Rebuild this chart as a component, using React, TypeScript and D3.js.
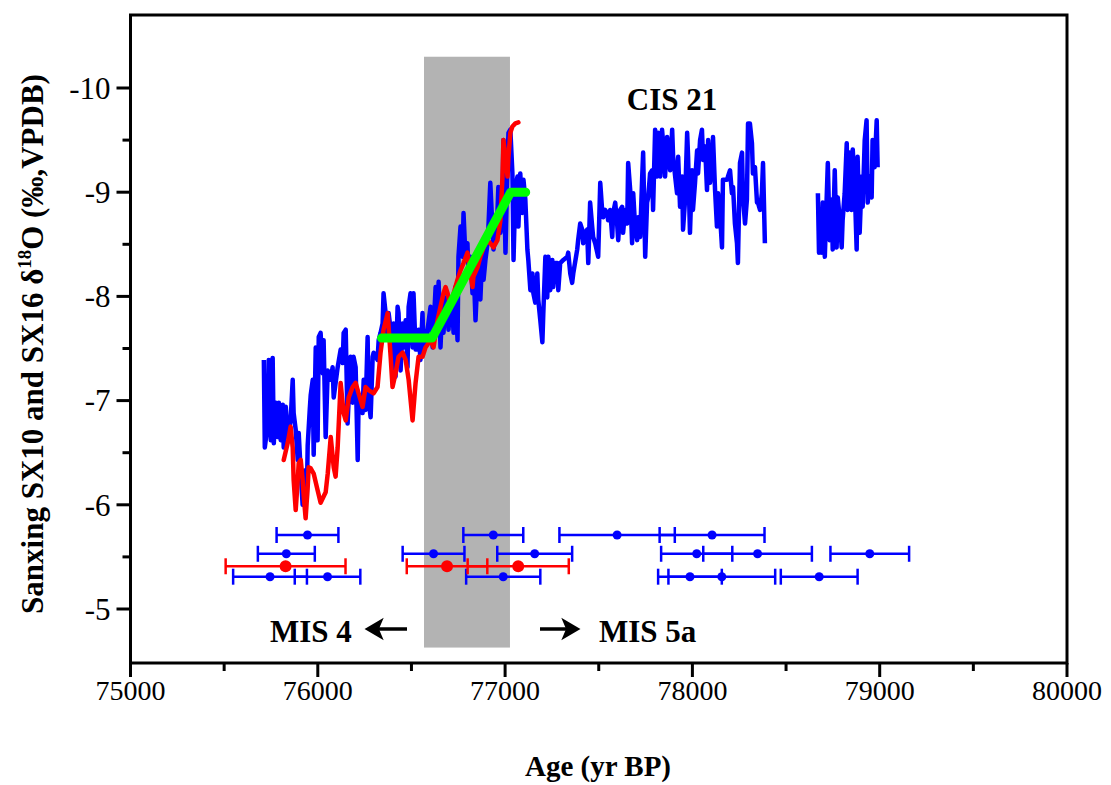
import React from "react";
import * as d3 from "d3";

// ---------- data ----------
const xTicksMajor = [75000, 76000, 77000, 78000, 79000, 80000];
const xTicksMinor = [75500, 76500, 77500, 78500, 79500];
const yTicksMajor = [-10, -9, -8, -7, -6, -5];
const yTicksMinor = [-9.5, -8.5, -7.5, -6.5, -5.5];

// SX10 (blue) – first continuous part
const blueA: [number, number][] = [
  [75712, -7.39], [75717, -6.55], [75733, -6.78], [75738, -7.39], [75749, -6.62], [75759, -7.41],
  [75765, -6.59], [75776, -6.98], [75786, -6.65], [75792, -6.98], [75802, -6.62], [75813, -6.96],
  [75818, -6.55], [75829, -6.94], [75840, -6.65], [75855, -6.81], [75866, -7.2], [75871, -6.88],
  [75882, -6.72], [75893, -6.43], [75898, -6.69], [75909, -6.31], [75919, -6.0], [75930, -6.33],
  [75941, -6.05], [75946, -6.57], [75957, -6.91], [75962, -7.05], [75973, -7.2], [75978, -6.48],
  [75989, -7.51], [75999, -6.62], [76005, -7.61], [76015, -7.65], [76026, -7.26], [76031, -7.58],
  [76042, -6.65], [76053, -7.29], [76069, -7.2], [76079, -7.32], [76085, -7.03], [76106, -7.32],
  [76122, -7.49], [76133, -7.36], [76138, -7.65], [76149, -7.68], [76159, -6.78], [76175, -7.42],
  [76186, -6.98], [76191, -7.42], [76202, -7.32], [76213, -6.43], [76218, -7.01], [76229, -7.01],
  [76239, -6.88], [76245, -7.2], [76255, -6.91], [76266, -7.61], [76271, -7.01], [76282, -6.84],
  [76293, -7.42], [76298, -7.46], [76319, -7.39], [76325, -7.58], [76335, -7.65], [76346, -7.74],
  [76351, -8.03], [76362, -7.84], [76373, -7.61], [76378, -7.84], [76389, -7.68], [76399, -7.42],
  [76405, -7.74], [76415, -7.23], [76426, -7.9], [76431, -7.84], [76442, -7.29], [76453, -7.74],
  [76458, -7.51], [76469, -7.77], [76479, -7.32], [76485, -7.9], [76495, -8.03], [76506, -7.51],
  [76511, -8.03], [76522, -7.49], [76533, -7.49], [76538, -7.68], [76548, -7.39], [76559, -7.84],
  [76565, -7.49], [76586, -7.68], [76602, -7.9], [76613, -7.51], [76629, -8.09], [76639, -7.71],
  [76645, -8.14], [76655, -7.51], [76666, -7.97], [76671, -7.65], [76682, -7.99], [76693, -7.8],
  [76698, -7.68], [76708, -7.99], [76719, -7.84], [76725, -7.65], [76735, -8.09], [76746, -7.58],
  [76751, -8.38], [76762, -8.67], [76773, -8.38], [76778, -8.8], [76789, -8.35], [76799, -8.51],
  [76805, -8.19], [76815, -8.38], [76826, -8.03], [76831, -8.32], [76842, -7.77], [76853, -8.22],
  [76858, -8.35], [76868, -7.97], [76879, -8.45], [76885, -8.16], [76895, -8.35], [76906, -8.51],
  [76911, -8.67], [76921, -9.09], [76932, -8.67], [76938, -8.45], [76948, -8.61], [76959, -8.8],
  [76964, -9.05], [76975, -8.61], [76986, -8.83], [76991, -9.5], [77002, -8.42], [77013, -9.31],
  [77018, -9.57], [77028, -9.6], [77039, -9.18], [77045, -8.35], [77055, -9.05], [77066, -9.15],
  [77071, -8.67], [77081, -9.18], [77092, -8.8], [77098, -9.12], [77108, -8.93], [77119, -8.45],
  [77124, -8.35], [77135, -8.06], [77146, -8.22], [77151, -8.03], [77161, -7.94], [77172, -8.22],
  [77177, -7.97], [77188, -7.77], [77199, -7.56], [77204, -7.84], [77215, -8.38], [77225, -7.99],
  [77231, -8.38], [77241, -8.06], [77252, -8.35], [77257, -8.09], [77268, -8.32], [77279, -8.32],
  [77284, -8.06], [77294, -8.32], [77311, -8.35], [77332, -8.38], [77337, -8.42], [77348, -8.22],
  [77358, -8.13], [77364, -8.22], [77385, -8.45], [77390, -8.54], [77401, -8.7], [77412, -8.64],
  [77417, -8.51], [77428, -8.61], [77438, -8.64], [77444, -8.32], [77454, -8.9], [77465, -8.67],
  [77470, -8.57], [77481, -8.51], [77492, -8.42], [77497, -8.38], [77508, -9.09], [77518, -8.83],
  [77524, -8.76], [77534, -8.83], [77545, -8.8], [77550, -8.73], [77561, -8.83], [77572, -8.57],
  [77577, -8.8], [77588, -8.9], [77598, -8.7], [77604, -8.54], [77614, -8.83], [77625, -8.86],
  [77630, -8.61], [77641, -8.83], [77652, -8.7], [77657, -9.28], [77668, -9.02], [77678, -8.51],
  [77684, -8.99], [77694, -8.67], [77705, -8.54], [77710, -8.76], [77721, -8.57], [77732, -9.15],
  [77737, -9.38], [77748, -8.38], [77758, -8.9], [77764, -8.95], [77774, -9.18], [77785, -9.21],
  [77790, -8.83], [77801, -9.6], [77812, -9.15], [77817, -9.57], [77828, -9.15], [77838, -9.6],
  [77844, -9.47], [77854, -9.15], [77865, -9.53], [77870, -9.41], [77881, -9.21], [77892, -9.6],
  [77897, -9.34], [77908, -9.15], [77918, -8.99], [77924, -9.34], [77934, -8.86], [77945, -9.15],
  [77950, -8.64], [77961, -8.93], [77972, -9.57], [77977, -9.34], [77987, -8.61], [77998, -9.21],
  [78003, -8.83], [78014, -9.09], [78025, -9.4], [78030, -9.18], [78041, -9.5], [78051, -9.6],
  [78057, -9.31], [78068, -9.44], [78078, -9.02], [78084, -9.5], [78094, -9.09], [78105, -9.28],
  [78110, -9.53], [78121, -9.02], [78131, -8.67], [78137, -8.99], [78147, -8.8], [78158, -8.47],
  [78163, -9.12], [78174, -9.12], [78185, -9.12], [78190, -9.15], [78201, -9.21], [78211, -8.99],
  [78217, -9.05], [78227, -8.7], [78238, -8.51], [78243, -8.32], [78254, -9.28], [78265, -9.38],
  [78270, -8.95], [78281, -8.7], [78291, -8.93], [78297, -9.66], [78307, -9.66], [78318, -9.47],
  [78323, -9.18], [78334, -9.24], [78345, -8.9], [78350, -8.9], [78361, -8.83], [78371, -8.99],
  [78377, -9.28], [78387, -8.51],
];

// SX10 (blue) – second part after the hiatus
const blueB: [number, number][] = [
  [78670, -8.99], [78676, -8.42], [78680, -8.83], [78691, -8.42], [78696, -8.9], [78707, -8.38],
  [78717, -8.95], [78723, -9.28], [78733, -8.54], [78744, -8.93], [78749, -8.45], [78760, -9.21],
  [78770, -8.47], [78776, -8.95], [78786, -8.76], [78797, -8.47], [78802, -8.73], [78813, -8.99],
  [78824, -9.47], [78829, -8.83], [78840, -9.38], [78850, -8.83], [78856, -9.41], [78866, -9.09],
  [78877, -8.45], [78882, -9.34], [78893, -8.61], [78904, -9.15], [78909, -8.86], [78920, -9.5],
  [78930, -9.69], [78936, -8.9], [78946, -9.15], [78957, -8.95], [78962, -9.5], [78973, -9.24],
  [78984, -9.69], [78989, -9.24],
];

// SX16 (red)
const red: [number, number][] = [
  [75818, -6.43], [75839, -6.59], [75855, -6.75], [75866, -6.55], [75871, -6.24], [75882, -5.95],
  [75893, -6.24], [75898, -6.4], [75909, -6.43], [75919, -6.24], [75925, -6.08], [75935, -5.87],
  [75946, -6.17], [75951, -6.36], [75962, -6.35], [75978, -6.3], [75999, -6.14], [76015, -6.02],
  [76031, -6.08], [76042, -6.12], [76053, -6.3], [76069, -6.65], [76085, -6.36], [76095, -6.27],
  [76106, -6.55], [76122, -7.17], [76138, -6.88], [76149, -6.81], [76165, -7.03], [76186, -7.13],
  [76202, -7.17], [76218, -7.07], [76239, -6.94], [76255, -7.13], [76271, -7.1], [76298, -7.07],
  [76319, -7.13], [76335, -7.46], [76351, -7.68], [76373, -7.84], [76389, -7.42], [76399, -7.13],
  [76415, -7.26], [76431, -7.42], [76453, -7.46], [76469, -7.39], [76485, -7.2], [76506, -6.81],
  [76522, -7.17], [76538, -7.42], [76559, -7.42], [76575, -7.51], [76602, -7.58], [76618, -7.51],
  [76639, -7.77], [76655, -7.9], [76671, -8.03], [76682, -8.09], [76693, -8.03], [76708, -7.9],
  [76725, -8.03], [76746, -8.16], [76762, -8.25], [76778, -8.32], [76799, -8.42], [76815, -8.22],
  [76826, -8.09], [76831, -8.19], [76853, -8.28], [76868, -8.38], [76885, -8.47], [76906, -8.54],
  [76921, -8.51], [76938, -8.47], [76959, -8.54], [76975, -8.73], [76986, -9.15], [76991, -9.5],
  [77002, -9.34], [77013, -9.15], [77018, -9.34], [77028, -9.57], [77039, -9.63], [77055, -9.66],
  [77071, -9.67],
];

// transition ramp (green)
const ramp: [number, number][] = [[76340, -7.6], [76610, -7.6], [77030, -9.0], [77110, -9.0]];

// shaded transition interval
const bandAges = [76567, 77026];
const bandValues = [-10.3, -4.63];

// U-Th dates: [age, 2σ error, plotted level]
const blueDates: [number, number, number][] = [
  [75945, 165, -5.71], [76937, 160, -5.71], [77598, 308, -5.71], [78105, 280, -5.71],
  [75832, 152, -5.53], [76618, 165, -5.53], [77158, 200, -5.53], [78023, 190, -5.53],
  [78348, 290, -5.53], [78947, 210, -5.53],
  [75745, 197, -5.31], [76052, 175, -5.31], [76990, 198, -5.31], [77987, 170, -5.31],
  [78157, 285, -5.31], [78677, 205, -5.31],
];
const redDates: [number, number, number][] = [
  [75828, 320, -5.41], [76690, 215, -5.41], [77070, 270, -5.41],
];

// ---------- layout ----------
const W = 1111;
const H = 785;
const L = 130.5;
const R = 1067;
const T = 15;
const B = 663;
const FONT = '"Liberation Serif", "Times New Roman", serif';

export default function App() {
  const x = d3.scaleLinear().domain([75000, 80000]).range([L, R]);
  const y = d3.scaleLinear().domain([-10, -5]).range([88, 609]);
  const line = d3
    .line<[number, number]>()
    .x((d) => x(d[0]))
    .y((d) => y(d[1]));

  const errBar = (d: [number, number, number], color: string, r: number, i: number) => {
    const x0 = x(d[0] - d[1]);
    const x1 = x(d[0] + d[1]);
    const cy = y(d[2]);
    return (
      <g key={color + i} stroke={color} strokeWidth={2.5}>
        <line x1={x0} x2={x1} y1={cy} y2={cy} />
        <line x1={x0} x2={x0} y1={cy - 8} y2={cy + 8} />
        <line x1={x1} x2={x1} y1={cy - 8} y2={cy + 8} />
        <circle cx={x(d[0])} cy={cy} r={r} fill={color} stroke="none" />
      </g>
    );
  };

  return (
    <svg
      width={W}
      height={H}
      viewBox={`0 0 ${W} ${H}`}
      style={{ position: "absolute", left: 0, top: 0, background: "#fff" }}
      fontFamily={FONT}
    >
      <rect x={0} y={0} width={W} height={H} fill="#fff" />
      {/* shaded interval */}
      <rect
        x={x(bandAges[0])}
        y={y(bandValues[0])}
        width={x(bandAges[1]) - x(bandAges[0])}
        height={y(bandValues[1]) - y(bandValues[0])}
        fill="#b3b3b3"
      />
      {/* records */}
      <path d={line(blueA) || ""} fill="none" stroke="#0000ff" strokeWidth={4.5} strokeLinejoin="round" />
      <path d={line(blueB) || ""} fill="none" stroke="#0000ff" strokeWidth={4.5} strokeLinejoin="round" />
      <path d={line(red) || ""} fill="none" stroke="#ff0000" strokeWidth={4.5} strokeLinejoin="round" strokeLinecap="round" />
      <path d={line(ramp) || ""} fill="none" stroke="#00ff00" strokeWidth={9} strokeLinecap="round" strokeLinejoin="round" />

      {/* dates */}
      {blueDates.map((d, i) => errBar(d, "#0000ff", 4.5, i))}
      {redDates.map((d, i) => errBar(d, "#ff0000", 6, i))}

      {/* frame */}
      <rect x={L} y={T} width={R - L} height={B - T} fill="none" stroke="#000" strokeWidth={3} />

      {/* x axis ticks */}
      {xTicksMajor.map((t) => (
        <g key={"xM" + t}>
          <line x1={x(t)} x2={x(t)} y1={B} y2={B + 14} stroke="#000" strokeWidth={3} />
          <text x={x(t)} y={B + 37} textAnchor="middle" fontSize={28}>
            {t}
          </text>
        </g>
      ))}
      {xTicksMinor.map((t) => (
        <line key={"xm" + t} x1={x(t)} x2={x(t)} y1={B} y2={B + 8} stroke="#000" strokeWidth={3} />
      ))}

      {/* y axis ticks */}
      {yTicksMajor.map((t) => (
        <g key={"yM" + t}>
          <line x1={L - 14} x2={L} y1={y(t)} y2={y(t)} stroke="#000" strokeWidth={3} />
          <text x={L - 20} y={y(t)} dy="0.35em" textAnchor="end" fontSize={31}>
            {String(t)}
          </text>
        </g>
      ))}
      {yTicksMinor.map((t) => (
        <line key={"ym" + t} x1={L - 8} x2={L} y1={y(t)} y2={y(t)} stroke="#000" strokeWidth={3} />
      ))}

      {/* axis titles */}
      <text x={598} y={776} textAnchor="middle" fontSize={29} fontWeight="bold">
        Age (yr BP)
      </text>
      <text
        transform={`translate(43, 344) rotate(-90)`}
        textAnchor="middle"
        fontSize={31}
        fontWeight="bold"
      >
        Sanxing SX10 and SX16 δ
        <tspan fontSize={19} dy={-12}>18</tspan>
        <tspan dy={12}>O (‰,VPDB)</tspan>
      </text>

      {/* annotations */}
      <text x={672} y={110} textAnchor="middle" fontSize={31} fontWeight="bold">
        CIS 21
      </text>
      <text x={270} y={642} fontSize={31} fontWeight="bold">
        MIS 4
      </text>
      <text x={599} y={642} fontSize={31} fontWeight="bold">
        MIS 5a
      </text>
      {/* arrows */}
      <g stroke="#000" strokeWidth={3.5} fill="#000">
        <line x1={407} x2={376} y1={629} y2={629} />
        <path d="M368,629 L380,622 L377,629 L380,636 Z" />
        <line x1={540} x2={569} y1={629} y2={629} />
        <path d="M577,629 L565,622 L568,629 L565,636 Z" />
      </g>
    </svg>
  );
}
